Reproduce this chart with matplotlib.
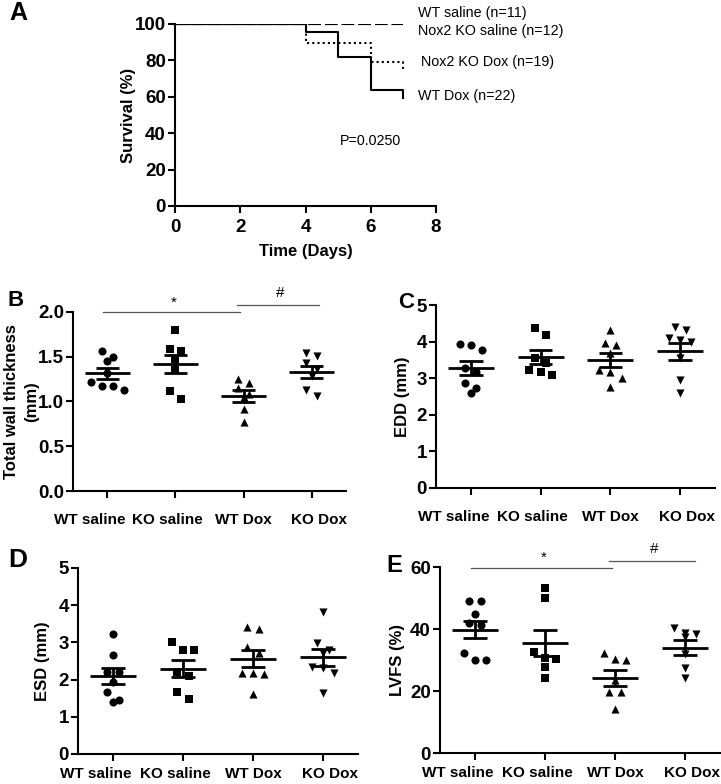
import numpy as np
import matplotlib
matplotlib.use('Agg')
import matplotlib.pyplot as plt
import matplotlib.transforms as mtransforms
from matplotlib.ticker import FormatStrFormatter

plt.rcParams['font.family'] = ['Liberation Sans', 'DejaVu Sans']

# survival curves (panel A)
days_wt_dox = [0, 4, 5, 6, 7]
surv_wt_dox = [100, 95.5, 81.8, 63.6, 59.1]
days_ko_dox = [0, 4, 6, 7]
surv_ko_dox = [100, 89.5, 78.9, 73.7]
days_saline = [0, 7]
surv_wt_saline = [100, 100]
surv_ko_saline = [100, 100]

groups = ['WT saline', 'KO saline', 'WT Dox', 'KO Dox']

# echo data (panels B-E), one list per group
twt = [[1.56, 1.49, 1.45, 1.32, 1.22, 1.17, 1.17, 1.13],
       [1.80, 1.58, 1.56, 1.47, 1.35, 1.11, 1.03],
       [1.25, 1.20, 1.15, 1.08, 1.05, 0.91, 0.77],
       [1.54, 1.51, 1.43, 1.36, 1.28, 1.13, 1.06]]
edd = [[3.93, 3.91, 3.77, 3.27, 3.18, 2.86, 2.72, 2.60],
       [4.36, 4.18, 3.55, 3.41, 3.22, 3.18, 3.09],
       [4.32, 3.95, 3.91, 3.68, 3.22, 3.18, 3.00, 2.77],
       [4.39, 4.32, 4.09, 4.04, 4.00, 3.54, 2.95, 2.59]]
esd = [[3.23, 2.66, 2.21, 2.21, 1.94, 1.66, 1.45, 1.41],
       [3.00, 2.80, 2.80, 2.21, 2.10, 1.66, 1.47],
       [3.42, 3.35, 2.88, 2.71, 2.19, 2.17, 2.15, 1.61],
       [3.83, 2.98, 2.80, 2.72, 2.35, 2.30, 2.19, 1.63]]
lvfs = [[49.0, 49.0, 45.0, 42.0, 41.3, 32.2, 30.0, 30.0],
        [53.1, 49.9, 32.7, 30.5, 30.2, 27.8, 24.3],
        [32.2, 30.3, 30.0, 23.5, 19.8, 19.8, 14.1],
        [40.2, 38.6, 38.4, 37.3, 32.0, 27.3, 24.1]]

markers = ['o', 's', '^', 'v']
label_shift = [-17, -8, 0, 7]  # px, how Prism placed the group names

W, H = 721, 784
fig = plt.figure(figsize=(W / 100, H / 100), dpi=100)


def px_axes(l, t, r, b):
    return fig.add_axes([l / W, 1 - b / H, (r - l) / W, (b - t) / H])


def style(ax, size=13.5):
    for s in ['top', 'right']:
        ax.spines[s].set_visible(False)
    for s in ['left', 'bottom']:
        ax.spines[s].set_linewidth(1.5)
    ax.tick_params(direction='out', length=5, width=1.5, labelsize=size)
    ax.tick_params(axis='y', pad=1.5)
    for lab in ax.get_xticklabels() + ax.get_yticklabels():
        lab.set_fontweight('bold')


def set_ylabel_px(ax, right_px):
    # the ylabel anchor is the right edge of the (rotated) text block
    bb = ax.get_position()
    ax.yaxis.set_label_coords((right_px / W - bb.x0) / bb.width, 0.5)


def swarm(vals, gap, w=0.16):
    vals = np.asarray(vals)
    order = np.argsort(-vals, kind='stable')
    offs = np.zeros(len(vals))
    clusters = []
    for i in order:
        if clusters and vals[clusters[-1][0]] - vals[i] <= gap:
            clusters[-1].append(i)
        else:
            clusters.append([i])
    for c in clusters:
        n = len(c)
        for k, i in enumerate(c):
            offs[i] = (k - (n - 1) / 2) * w
    return offs


def dotplot(ax, data, ymax, yticks, ylabel, lab_right, xpad, fmt=None):
    for i, vals in enumerate(data):
        pos = i + 1
        x = pos + swarm(vals, ymax / 22)
        ax.scatter(x, vals, marker=markers[i], s=34, color='k', zorder=3,
                   linewidths=0, clip_on=False)
        m = np.mean(vals)
        sem = np.std(vals, ddof=1) / np.sqrt(len(vals))
        ax.hlines(m, pos - 0.33, pos + 0.33, color='k', lw=2, zorder=4)
        ax.hlines([m - sem, m + sem], pos - 0.17, pos + 0.17, color='k', lw=2, zorder=4)
        ax.vlines(pos, m - sem, m + sem, color='k', lw=2, zorder=4)
    ax.set_xlim(0.5, 4.5)
    ax.set_ylim(0, ymax)
    ax.set_yticks(yticks)
    if fmt:
        ax.yaxis.set_major_formatter(FormatStrFormatter(fmt))
    ax.set_xticks([1, 2, 3, 4])
    ax.set_xticklabels(groups)
    ax.set_ylabel(ylabel, fontsize=12, fontweight='bold', linespacing=1.45)
    set_ylabel_px(ax, lab_right)
    style(ax)
    ax.tick_params(axis='x', pad=xpad)
    for lab, dx in zip(ax.get_xticklabels(), label_shift):
        lab.set_fontsize(11)
        lab.set_transform(lab.get_transform() +
                          mtransforms.ScaledTranslation(dx / 100, 0, fig.dpi_scale_trans))


def sig(ax, x0, x1, y, ty, txt):
    ax.plot([x0, x1], [y, y], color='#555555', lw=0.9, clip_on=False)
    ax.text((x0 + x1) / 2 + 0.03, ty, txt, ha='center', va='center', fontsize=11)


# Panel A
axA = px_axes(175, 24, 436, 206)
axA.step(days_saline, surv_wt_saline, where='post', color='k', lw=1.5, ls=(0, (6, 2)))
axA.step(days_saline, surv_ko_saline, where='post', color='k', lw=1.5, ls=(0, (6, 2)))
axA.step(days_ko_dox, surv_ko_dox, where='post', color='k', lw=1.5, ls=(0, (1, 1.5)))
axA.step(days_wt_dox, surv_wt_dox, where='post', color='k', lw=1.5)
axA.plot([0, 4], [100, 100], color='k', lw=1.5)
axA.set_xlim(0, 8)
axA.set_ylim(0, 100)
axA.set_xticks([0, 2, 4, 6, 8])
axA.set_yticks([0, 20, 40, 60, 80, 100])
axA.set_xlabel('Time (Days)', fontsize=12, fontweight='bold', labelpad=6)
axA.set_ylabel('Survival (%)', fontsize=12, fontweight='bold')
set_ylabel_px(axA, 136)
style(axA)
axA.tick_params(axis='x', pad=4)
for txt, x, y in [('WT saline (n=11)', 7.45, 106), ('Nox2 KO saline (n=12)', 7.45, 96.3),
                  ('Nox2 KO Dox (n=19)', 7.55, 79.1), ('WT Dox (n=22)', 7.45, 60.4)]:
    axA.text(x, y, txt, fontsize=10.3, va='center', ha='left', clip_on=False)
axA.text(5.06, 35.7, 'P=0.0250', fontsize=10.3, va='center', ha='left')

# Panel B
axB = px_axes(73, 311.7, 346, 491)
dotplot(axB, twt, 2.0, [0, 0.5, 1.0, 1.5, 2.0], 'Total wall thickness\n(mm)', 39, 11, '%.1f')
sig(axB, 0.94, 2.94, 2.0, 2.10, '*')
sig(axB, 2.91, 4.11, 2.08, 2.21, '#')

# Panel C
axC = px_axes(436, 305, 715, 488)
dotplot(axC, edd, 5, [0, 1, 2, 3, 4, 5], 'EDD (mm)', 410, 11)

# Panel D
axD = px_axes(78, 568, 358, 754)
dotplot(axD, esd, 5, [0, 1, 2, 3, 4, 5], 'ESD (mm)', 50, 4.5)

# Panel E
axE = px_axes(440, 567, 720, 753)
dotplot(axE, lvfs, 60, [0, 20, 40, 60], 'LVFS (%)', 405, 4.5)
sig(axE, 0.94, 2.96, 59.6, 62.9, '*')
sig(axE, 2.91, 4.14, 62.0, 65.8, '#')

for txt, x, y, fs in [('A', 18, 13, 18), ('B', 16, 300, 16), ('C', 406, 302, 16),
                      ('D', 18, 560, 19), ('E', 394, 566, 17)]:
    fig.text(x / W, 1 - y / H, txt, fontsize=fs, fontweight='bold', ha='center', va='center')

fig.savefig('out.png', dpi=100)
